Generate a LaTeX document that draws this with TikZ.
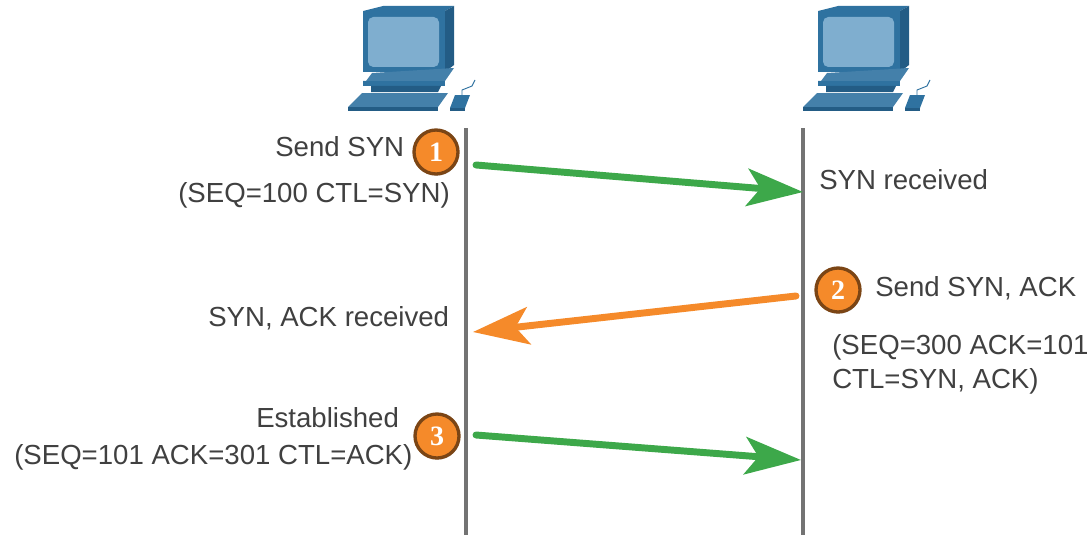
\documentclass[tikz,border=0pt]{standalone}
\usepackage{fontspec}
\setmainfont{Liberation Sans}
\newfontfamily\digitfont{Liberation Serif}
\usetikzlibrary{arrows.meta,shadows}
\definecolor{pcmid}{HTML}{2F72A0}
\definecolor{pcdark}{HTML}{235C85}
\definecolor{pcscreen}{HTML}{7FAECF}
\definecolor{gr}{HTML}{3DA84A}
\definecolor{org}{HTML}{F58A2A}
\definecolor{txt}{HTML}{404040}
\tikzset{
 x=0.75pt,y=-0.75pt,
 lab/.style={font=\fontsize{20.7}{24}\selectfont,text=txt,inner sep=0pt,anchor=west},
 vline/.style={draw=black!55,line width=3pt},
 garrow/.style={draw=gr,line width=5.2pt,line cap=round,-{Stealth[length=42pt,width=28pt,inset=10pt]}},
 oarrow/.style={draw=org,line width=5.2pt,line cap=round,-{Stealth[length=42pt,width=28pt,inset=10pt]}},
 badge/.style={circle,minimum size=33pt,inner sep=0pt,fill=org,draw=black!50!org,line width=2.5pt,text=white,font=\digitfont\fontsize{21}{24}\bfseries\selectfont,drop shadow={shadow xshift=0.7pt,shadow yshift=-1.2pt,opacity=.45}},
 pc/.pic={
  \fill[pcmid] (363,11)--(383,6)--(454,6)--(445,11)--cycle;
  \fill[pcdark] (445,11)--(454,6)--(454,65)--(445,72)--cycle;
  \fill[pcmid] (363,11) rectangle (445,72);
  \fill[pcscreen,rounded corners=4pt] (368,17) rectangle (439,67);
  \fill[pcmid!90!white] (372,73)--(454,68)--(445,81)--(363,81)--(363,85)--(372,73)--cycle;
  \fill[pcmid] (363,81) rectangle (445,86);
  \fill[pcdark] (371,86)--(441,86)--(438,92)--(371,92)--cycle;
  \fill[pcmid!90!white] (348,107)--(362,93)--(448,93)--(438,107)--cycle;
  \fill[pcdark] (348,107) rectangle (438,111);
  \fill[pcmid] (450,108)--(455,95)--(470,95)--(465,108)--cycle;
  \fill[pcdark] (450,108) rectangle (465,111);
  \draw[pcmid,line width=.7pt] (462,95)--(462,90)--(472,86)--(475,80);
 }
}
\begin{document}
\begin{tikzpicture}
\useasboundingbox (0,0) rectangle (1088,535);
\pic (pcleft) at (0,0) {pc};
\pic (pcright) at (455,0) {pc};
\coordinate (lt) at (466,128); \coordinate (lb) at (466,535);
\coordinate (rt) at (803,128); \coordinate (rb) at (803,535);
\draw[vline] (lt)--(lb);
\draw[vline] (rt)--(rb);
\node[lab] (t1) at (275,147) {Send SYN};
\node[lab] (t2) at (178,195) {(SEQ=100 CTL=SYN)};
\node[lab] (t3) at (819,180) {SYN received};
\node[lab] (t4) at (875,288) {Send SYN, ACK};
\node[lab] (t5) at (208,318) {SYN, ACK received};
\node[lab] (t6) at (832,347) {(SEQ=300 ACK=101};
\node[lab] (t7) at (832,381) {CTL=SYN, ACK)};
\node[lab] (t8) at (256,418) {Established};
\node[lab] (t9) at (14,457) {(SEQ=101 ACK=301 CTL=ACK)};
\node[badge] (b1) at (436,152) {1};
\node[badge] (b2) at (838,290) {2};
\node[badge] (b3) at (437,436) {3};
\coordinate (a1s) at (476,165); \coordinate (a1e) at (803,192);
\coordinate (a2s) at (796,296); \coordinate (a2e) at (473,332);
\coordinate (a3s) at (476,435); \coordinate (a3e) at (801,460);
\draw[garrow] (a1s)--(a1e);
\draw[oarrow] (a2s)--(a2e);
\draw[garrow] (a3s)--(a3e);
\end{tikzpicture}
\end{document}
